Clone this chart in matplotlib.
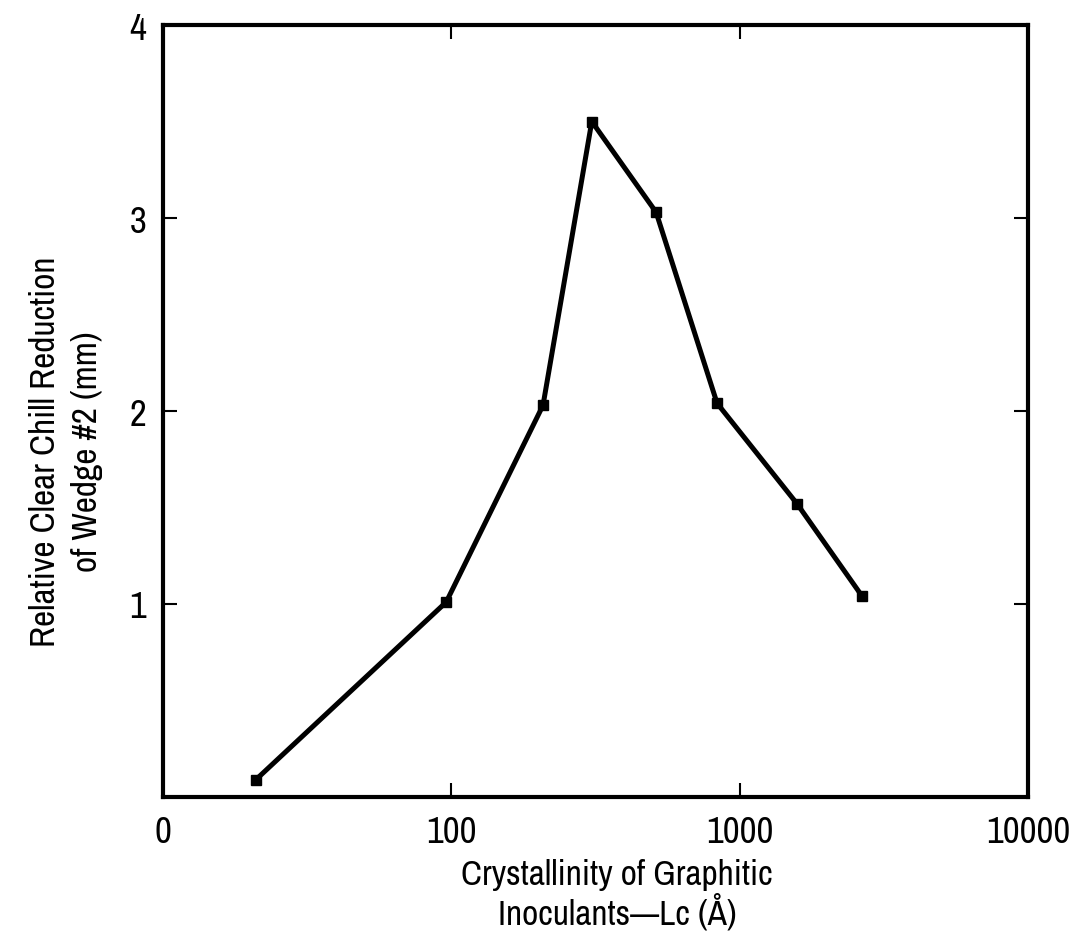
import matplotlib
matplotlib.use("Agg")
import matplotlib.pyplot as plt
from matplotlib.ticker import FixedLocator, NullLocator
import logging
logging.getLogger('matplotlib.font_manager').setLevel(logging.ERROR)

narrow_fonts = ['Nimbus Sans Narrow', 'Liberation Sans Narrow', 'Arial Narrow',
                'Archivo Narrow', 'PT Sans Narrow', 'Roboto Condensed',
                'Liberation Sans', 'DejaVu Sans']
plt.rcParams['font.family'] = narrow_fonts

# Data
lc_angstrom = [21, 96, 208, 307, 513, 835, 1580, 2660]
chill_reduction = [0.09, 1.01, 2.03, 3.50, 3.03, 2.04, 1.52, 1.04]

x_ticks = [10, 100, 1000, 10000]
x_tick_labels = ["0", "100", "1000", "10000"]
y_ticks = [1, 2, 3, 4]
y_tick_labels = ["1", "2", "3", "4"]

fig = plt.figure(figsize=(10.92, 9.37), dpi=100)
ax = fig.add_axes([163/1092, 1-798/937, (1028-163)/1092, (798-26)/937])

ax.plot(lc_angstrom, chill_reduction, color='black', linewidth=3.6,
        marker='s', markersize=7.5, markerfacecolor='black', markeredgecolor='black')

ax.set_xscale('log')
ax.set_xlim(10, 10000)
ax.set_ylim(0, 4)
ax.xaxis.set_major_locator(FixedLocator(x_ticks))
ax.xaxis.set_minor_locator(NullLocator())
ax.set_xticklabels(x_tick_labels)
ax.yaxis.set_major_locator(FixedLocator(y_ticks))
ax.set_yticklabels(y_tick_labels)

for s in ax.spines.values():
    s.set_linewidth(3)

ax.tick_params(axis='both', which='major', direction='in', length=10, width=1.5,
               top=True, right=True, labelsize=26.5, pad=12)
ax.tick_params(axis='x', pad=13)
for lbl in ax.get_xticklabels() + ax.get_yticklabels():
    lbl.set_fontweight('bold')

ax.set_xlabel("Crystallinity of Graphitic\nInoculants\u2014Lc (\u00c5)", fontsize=25.5,
              linespacing=1.05)
ax.xaxis.set_label_coords((617-163)/865, -(859-798)/772)
ax.set_ylabel("Relative Clear Chill Reduction\nof Wedge #2 (mm)", fontsize=25.5,
              linespacing=1.4)
ax.yaxis.set_label_coords(-(163-103)/865, (798-452)/772)

fig.savefig("out.png", dpi=100)
